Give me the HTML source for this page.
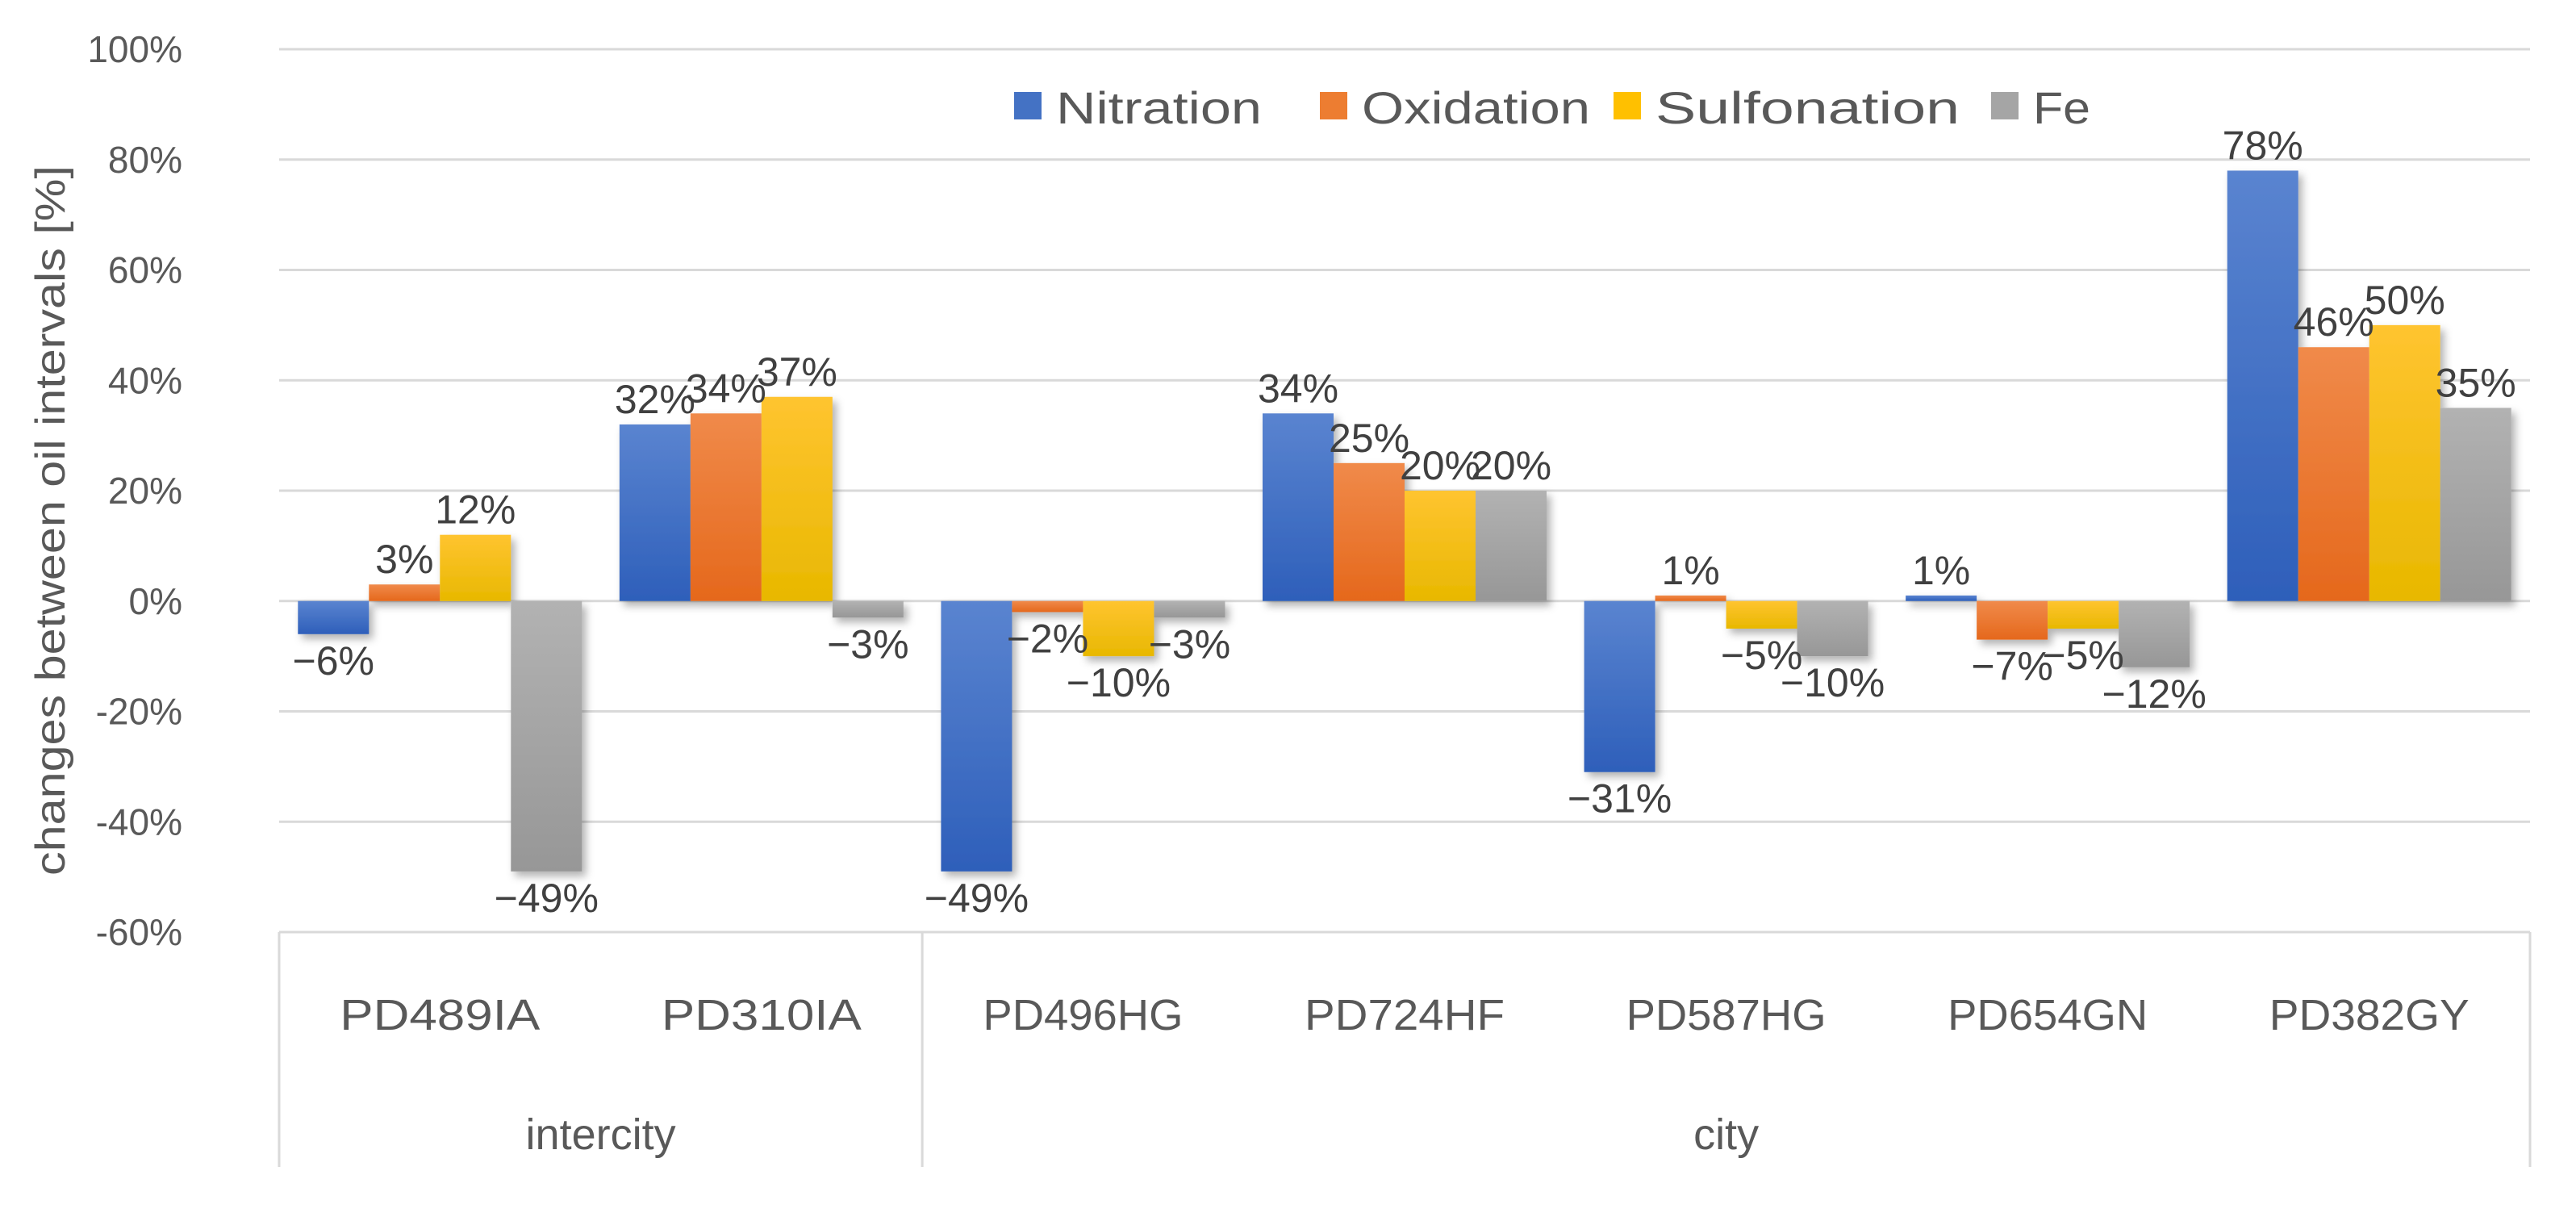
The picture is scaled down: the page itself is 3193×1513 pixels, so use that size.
<!DOCTYPE html>
<html><head><meta charset="utf-8"><style>
html,body{margin:0;padding:0;background:#fff;}
svg{display:block;font-family:"Liberation Sans",sans-serif;}
</style></head><body>
<svg id="chart" width="3193" height="1513" viewBox="0 0 3193 1513" xmlns="http://www.w3.org/2000/svg">
<defs>
<linearGradient id="gb" x1="0" y1="0" x2="0" y2="1"><stop offset="0" stop-color="#5a84d0"/><stop offset="1" stop-color="#2e5fba"/></linearGradient>
<linearGradient id="go" x1="0" y1="0" x2="0" y2="1"><stop offset="0" stop-color="#f08a4a"/><stop offset="1" stop-color="#e5681c"/></linearGradient>
<linearGradient id="gy" x1="0" y1="0" x2="0" y2="1"><stop offset="0" stop-color="#ffc430"/><stop offset="1" stop-color="#e8b800"/></linearGradient>
<linearGradient id="gg" x1="0" y1="0" x2="0" y2="1"><stop offset="0" stop-color="#b2b2b2"/><stop offset="1" stop-color="#979797"/></linearGradient>
<filter id="sh" x="-20%" y="-20%" width="150%" height="150%"><feDropShadow dx="5" dy="6" stdDeviation="5" flood-color="#000" flood-opacity="0.3"/></filter>
</defs>
<g id="grid"></g>
<g id="bars" filter="url(#sh)"></g>
<g id="labels"></g>
<g id="axis"></g>
<g id="legend"></g>
</svg>
<script>
const categories = ["PD489IA","PD310IA","PD496HG","PD724HF","PD587HG","PD654GN","PD382GY"];
const groups = ["intercity","city"];
const groupSizes = [2,5];
const seriesNames = ["Nitration","Oxidation","Sulfonation","Fe"];
const nitration = [-6,32,-49,34,-31,1,78];
const oxidation = [3,34,-2,25,1,-7,46];
const sulfonation = [12,37,-10,20,-5,-5,50];
const fe = [-49,-3,-3,20,-10,-12,35];
const yTicks = [100,80,60,40,20,0,-20,-40,-60];

const series = [nitration, oxidation, sulfonation, fe];
const fills = ["url(#gb)","url(#go)","url(#gy)","url(#gg)"];
const solid = ["#4472C4","#ED7D31","#FFC000","#A5A5A5"];
const NS = "http://www.w3.org/2000/svg";
const X0 = 346, X1 = 3136, Y100 = 61, Ym60 = 1155;
const catW = (X1 - X0) / categories.length;
const barW = 88;
function y(v){ return Y100 + (100 - v) * (Ym60 - Y100) / 160; }
function xCat(i){ return X0 + i * catW; }
function mk(tag, attrs, parent){ const e = document.createElementNS(NS, tag); for (const k in attrs) e.setAttribute(k, attrs[k]); parent.appendChild(e); return e; }

const grid = document.getElementById('grid');
const axis = document.getElementById('axis');
yTicks.forEach(t => {
  const l = mk('line', {x1:X0, x2:X1, y1:y(t), y2:y(t), stroke:'#d9d9d9', 'stroke-width':3}, grid);
  
  
  const tx = mk('text', {x:226, y:y(t)+16, 'text-anchor':'end', 'font-size':46, fill:'#595959'}, axis);
  tx.textContent = t + '%';
  
  
});
const yt = mk('text', {x:0, y:0, transform:'translate(80,645) rotate(-90)', 'text-anchor':'middle', 'font-size':52, fill:'#595959', textLength:880, lengthAdjust:'spacingAndGlyphs'}, axis);
yt.textContent = 'changes between oil intervals [%]';



let idx = 0;
const bounds = [0];
groupSizes.forEach(n => { idx += n; bounds.push(idx); });
bounds.forEach(b => {
  const l = mk('line', {x1:xCat(b), x2:xCat(b), y1:y(-60), y2:1446, stroke:'#d9d9d9', 'stroke-width':3}, axis);
  
  
});
categories.forEach((c, i) => {
  const t = mk('text', {x:xCat(i)+catW/2, y:1276, 'text-anchor':'middle', 'font-size':54, fill:'#595959', textLength:248, lengthAdjust:'spacingAndGlyphs'}, axis);
  t.textContent = c;
  
  
});
groups.forEach((g, i) => {
  const cx = (xCat(bounds[i]) + xCat(bounds[i+1])) / 2;
  const t = mk('text', {x:cx, y:1424, 'text-anchor':'middle', 'font-size':54, fill:'#595959'}, axis);
  t.textContent = g;
  
  
});

const barsG = document.getElementById('bars');
const labG = document.getElementById('labels');
series.forEach((s, si) => {
  s.forEach((v, i) => {
    const bx = xCat(i) + (catW - 4*barW)/2 + si*barW;
    const top = Math.min(y(v), y(0)), h = Math.abs(y(v) - y(0));
    const r = mk('rect', {x:bx, y:top, width:barW, height:Math.max(h,3), fill:fills[si]}, barsG);
    
    
    const ly = v >= 0 ? y(v) - 14 : y(v) + 50;
    const t = mk('text', {x:bx+barW/2, y:ly, 'text-anchor':'middle', 'font-size':50, fill:'#404040'}, labG);
    t.textContent = (v < 0 ? '\u2212' + Math.abs(v) : v) + '%';
    
    
  });
});

const lg = document.getElementById('legend');
const legX = [1257, 1636, 2000, 2468];
const legW = [255, 283, 377, 71];
seriesNames.forEach((n, i) => {
  const g = mk('g', {}, lg);
  
  
  mk('rect', {x:legX[i], y:114, width:34, height:34, fill:solid[i]}, g);
  const t = mk('text', {x:legX[i]+52, y:153, 'font-size':56, fill:'#595959', textLength:legW[i], lengthAdjust:'spacingAndGlyphs'}, g);
  t.textContent = n;
});
</script>
</body></html>
